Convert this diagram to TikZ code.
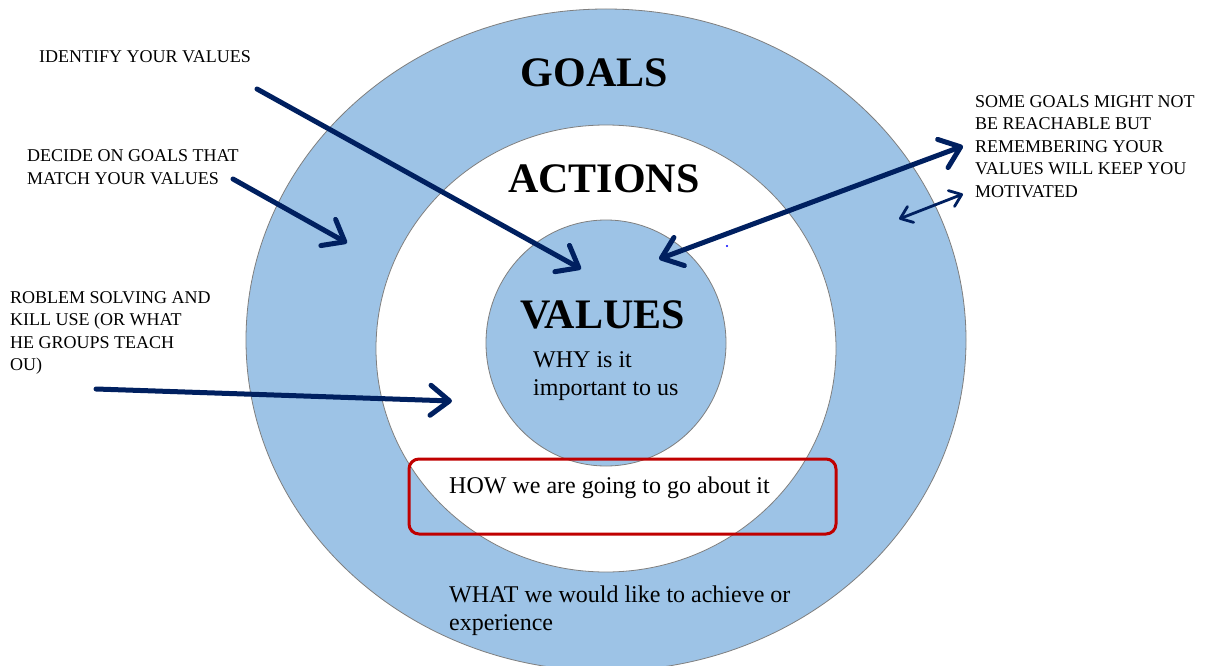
\documentclass[tikz,border=0pt]{standalone}
\usepackage{fontspec}
\setmainfont{Liberation Serif}
\usetikzlibrary{arrows.meta}
\definecolor{ringblue}{HTML}{9DC3E6}
\definecolor{navy}{HTML}{002060}
\definecolor{boxred}{HTML}{C00000}
\definecolor{rimgray}{HTML}{7F7F7F}
\begin{document}
\begin{tikzpicture}[x=1pt,y=-1pt,
  ring/.style={draw=rimgray,line width=0.8pt},
  title/.style={inner sep=0pt,anchor=base,font=\fontsize{42}{50}\selectfont\bfseries},
  body/.style={inner sep=0pt,anchor=base west,align=left,font=\fontsize{24}{28}\selectfont},
  note/.style={inner sep=0pt,anchor=base west,align=left,font=\fontsize{18}{22.5}\selectfont},
  bighead/.style={Straight Barb[length=19pt,width=30pt,line cap=round,line join=round]},
  thinhead/.style={Straight Barb[length=11pt,width=17pt,line cap=round,line join=round]},
  bigarrow/.style={navy,line width=5pt,line cap=round,line join=round,
    arrows={-{Straight Barb[length=19pt,width=30pt,line cap=round,line join=round]}}},
  bigboth/.style={navy,line width=5pt,line cap=round,line join=round,
    arrows={{Straight Barb[length=19pt,width=30pt,line cap=round,line join=round]}-{Straight Barb[length=19pt,width=30pt,line cap=round,line join=round]}}},
  thinboth/.style={navy,line width=2.8pt,line cap=round,line join=round,
    arrows={{Straight Barb[length=11pt,width=17pt,line cap=round,line join=round]}-{Straight Barb[length=11pt,width=17pt,line cap=round,line join=round]}}}
]
\useasboundingbox (0,0) rectangle (1205,666);

% concentric rings: goals, actions, values
\fill[white] (0,0) rectangle (1205,666);
\draw[ring,fill=ringblue] (606,340) ellipse [x radius=360,y radius=331];
\draw[ring,fill=white] (606,348.5) ellipse [x radius=230,y radius=223.5];
\draw[ring,fill=ringblue] (606,343) ellipse [x radius=120,y radius=123];

% ring titles
\node[title] (goals) at (594.5,87) {GOALS};
\node[title] (actions) at (604,192) {ACTIONS};
\node[title] (values) at (602.5,328) {VALUES};

% ring descriptions (multi-line nodes are placed by their last baseline)
\node[body] (why) at (533,395) {WHY is it\\important to us};
\node[body] (how) at (449,493) {HOW we are going to go about it};
\node[body] (what) at (449,630) {WHAT we would like to achieve or\\experience};

% highlight around the actions description
\draw[boxred,line width=3pt,rounded corners=10pt] (409,459) rectangle (836,534);

% side notes
\node[note] (identify) at (39,63) {IDENTIFY YOUR VALUES};
\node[note] (decide) at (27,184.5) {DECIDE ON GOALS THAT\\MATCH YOUR VALUES};
\node[note] (skills) at (10,370.5) {ROBLEM SOLVING AND\\KILL USE (OR WHAT\\HE GROUPS TEACH\\OU)};
\node[note] (reach) at (975,197) {SOME GOALS MIGHT NOT\\BE REACHABLE BUT\\REMEMBERING YOUR\\VALUES WILL KEEP YOU\\MOTIVATED};

% arrow end points
\coordinate (idS) at (257,89);
\coordinate (idE) at (581,269);
\coordinate (dcS) at (233,179);
\coordinate (dcE) at (347,243);
\coordinate (skS) at (96,389);
\coordinate (skE) at (452,401);
\coordinate (rcA) at (659,259);
\coordinate (rcB) at (963,146);
\coordinate (mtA) at (899,219);
\coordinate (mtB) at (963,194);

% arrows
\draw[bigarrow] (idS) -- (idE);
\draw[bigarrow] (dcS) -- (dcE);
\draw[bigarrow] (skS) -- (skE);
\draw[bigboth] (rcA) -- (rcB);
\draw[thinboth] (mtA) -- (mtB);

% small blue dot
\fill[blue] (727,246) circle [radius=1.1];
\end{tikzpicture}
\end{document}
